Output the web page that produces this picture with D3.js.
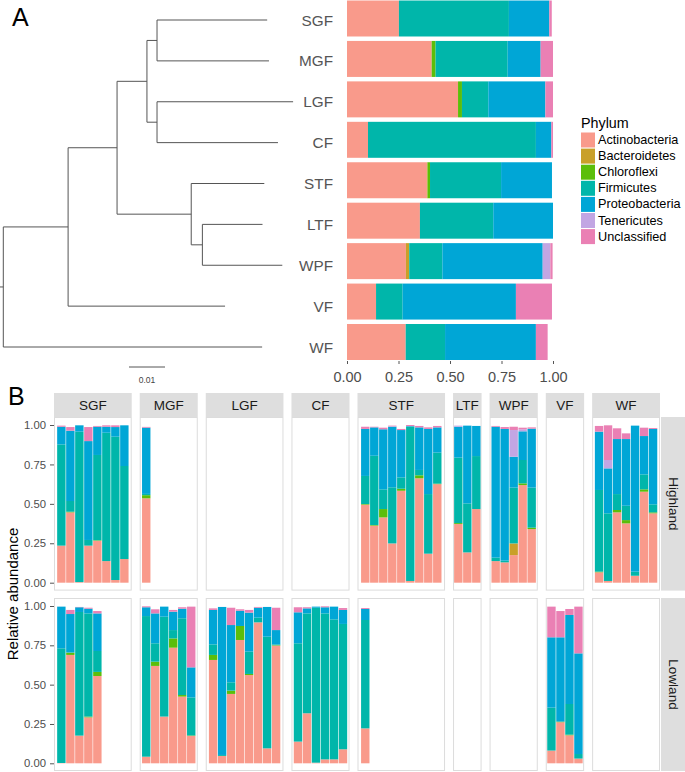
<!DOCTYPE html>
<html><head><meta charset="utf-8">
<script src="https://cdn.jsdelivr.net/npm/d3@7"></script>
<style>body{margin:0;background:#fff;} svg{display:block;font-family:"Liberation Sans",Arial,Helvetica,sans-serif;}</style>
</head><body><svg id="c" width="685" height="772"></svg>
<script>
// ---------- data ----------
const phyla = ["Actinobacteria","Bacteroidetes","Chloroflexi","Firmicutes","Proteobacteria","Tenericutes","Unclassified"];
const phylumColors = ["#F99A8B","#C9A029","#5BBE0A","#00B6AA","#00A6D6","#C2A6E3","#EA80B4"];
const sites = ["SGF","MGF","LGF","CF","STF","LTF","WPF","VF","WF"];
const rows = ["Highland","Lowland"];
const xTicksA = [0,0.25,0.5,0.75,1];
const yTicksB = [0,0.25,0.5,0.75,1];

// Panel A: mean relative abundance per site (order of sites)
const aActinobacteria = [.252,.411,.539,.102,.388,.354,.286,.141,.285];
const aBacteroidetes  = [0,0,0,0,.003,0,.016,0,0];
const aChloroflexi    = [0,.019,.019,0,.012,0,0,0,0];
const aFirmicutes     = [.534,.350,.128,.815,.345,.356,.161,.129,.191];
const aProteobacteria = [.196,.160,.277,.075,.247,.290,.487,.550,.441];
const aTenericutes    = [0,0,0,0,0,0,.037,0,0];
const aUnclassified   = [.012,.060,.037,.008,0,0,.011,.175,.057];

// Dendrogram (branch lengths)
const tree = {len:0, children:[
  {len:0.0180, children:[
    {len:0.0136, children:[
      {len:0.0083, children:[
        {len:0.0028, children:[{name:"SGF",len:0.0306},{name:"MGF",len:0.0311}]},
        {len:0.0028, children:[{name:"LGF",len:0.0378},{name:"CF",len:0.0336}]}
      ]},
      {len:0.0206, children:[
        {name:"STF",len:0.0203},
        {len:0.0031, children:[{name:"LTF",len:0.0167},{name:"WPF",len:0.0222}]}
      ]}
    ]},
    {name:"VF",len:0.0436}
  ]},
  {name:"WF",len:0.0719}
]};

// Panel B: per-sample abundances [Act,Bac,Chl,Fir,Pro,Ten,Unc]
const hiSGF = [[.235,0,0,.642,.112,0,.007],[.446,0,.004,.068,.446,0,.023],[.004,0,0,.954,.040,0,0],[.235,0,0,.036,.627,0,.089],[.266,0,.003,.541,.179,0,.005],[.137,0,0,.814,.038,0,.009],[.017,0,0,.909,.061,0,.011],[.150,0,0,.590,.258,0,0]];
const hiMGF = [[.535,0,.020,.008,.420,0,.005]];
const hiLGF = [];
const hiCF  = [];
const hiSTF = [[.495,0,.004,.178,.298,0,.014],[.362,0,.004,.439,.180,0,.004],[.414,0,.053,.125,.381,0,.010],[.249,0,0,.356,.384,.003,.004],[.583,0,.013,.072,.300,0,.007],[.011,0,0,.978,.004,0,.007],[.662,0,.019,.034,.270,0,.009],[.184,0,0,.378,.413,0,.010],[.625,0,.003,.197,.160,0,.009]];
const hiLTF = [[.372,0,.006,.415,.196,.007,0],[.192,0,0,.311,.493,0,0],[.467,0,0,.336,.191,0,0]];
const hiWPF = [[.137,0,0,.022,.830,0,.005],[.129,0,0,.011,.835,0,.012],[.175,.074,0,.354,.196,.169,.021],[.619,0,.011,.148,.182,.013,.010],[.340,0,.009,.254,.374,0,.008]];
const hiVF  = [];
const hiWF  = [[.066,0,.004,.518,.370,0,.036],[.011,0,0,.429,.285,.053,.220],[.446,0,.015,.101,.349,0,.068],[.376,0,.021,.091,.423,0,.036],[.044,0,0,.026,.926,0,0],[.577,0,.015,.095,.243,0,.053],[.440,0,.006,.051,.478,0,.006]];

const loSGF = [[.002,0,0,.729,.265,0,0],[.689,0,.014,.003,.243,0,.026],[.176,0,0,.786,.030,0,.002],[.292,0,.005,.656,.030,0,.006],[.555,0,.026,.133,.239,0,.015]];
const loMGF = [[.042,0,0,.894,.056,0,.006],[.619,0,.027,.117,.190,0,.026],[.297,0,0,.635,.064,0,0],[.735,0,.059,.053,.117,0,.011],[.424,0,.010,.488,.061,0,.009],[.174,0,.003,.242,.191,0,.386]];
const loLGF = [[.657,0,.032,.067,.219,0,.010],[.047,0,0,.006,.941,0,0],[.441,0,.021,.053,.364,0,.110],[.784,0,.089,0,.097,0,.009],[.561,0,.007,.142,.248,0,.017],[.896,0,0,.030,.063,0,.005],[.095,0,0,.710,.189,0,0],[.748,0,.003,.005,.091,0,.142]];
const loCF  = [[.138,0,0,.625,.197,0,.032],[.318,0,0,.635,.032,0,.007],[.004,0,0,.985,.007,0,0],[.025,0,0,.928,.039,0,.006],[.025,0,0,.890,.081,0,0],[.089,0,0,.797,.089,0,.012]];
const loSTF = [[.222,0,0,.689,.070,0,.006]];
const loLTF = [];
const loWPF = [];
const loVF  = [[.081,0,0,.273,.447,0,.195],[.261,0,.004,0,.536,0,.167],[.178,0,.004,.195,.566,0,.038],[.030,0,0,.029,.640,0,.297]];
const loWF  = [];

// ---------- drawing ----------
const svg = d3.select("#c");
const color = d3.scaleOrdinal(phyla, phylumColors);
const axisGrey = "#4D4D4D";

// Panel labels
svg.append("text").attr("x",12).attr("y",26).attr("font-size",25).attr("fill","#000").text("A");
svg.append("text").attr("x",8).attr("y",405).attr("font-size",25).attr("fill","#000").text("B");

// --- Dendrogram ---
const root = d3.hierarchy(tree);
root.each(n => { n.pos = (n.parent ? n.parent.pos : 0) + n.data.len; });
const dx = d3.scaleLinear().domain([0,0.01]).range([3.3,39.3]);
const tipY = d3.scalePoint().domain(sites).range([20,347]);
root.eachAfter(n => {
  if (!n.children) n.yy = tipY(n.data.name);
  else n.yy = (n.children[0].yy + n.children[n.children.length-1].yy)/2;
});
const dg = svg.append("g").attr("stroke","#555").attr("stroke-width",1).attr("fill","none");
root.descendants().forEach(n => {
  if (n.parent) dg.append("line").attr("x1",dx(n.parent.pos)).attr("x2",dx(n.pos)).attr("y1",n.yy).attr("y2",n.yy);
  if (n.children) {
    const ys = n.children.map(c=>c.yy);
    dg.append("line").attr("x1",dx(n.pos)).attr("x2",dx(n.pos)).attr("y1",d3.min(ys)).attr("y2",d3.max(ys));
  }
});
dg.append("line").attr("x1",0).attr("x2",dx(0)).attr("y1",root.yy).attr("y2",root.yy);
// tip labels
svg.append("g").selectAll("text").data(root.leaves()).join("text")
  .attr("x",333).attr("y",d=>d.yy).attr("text-anchor","end").attr("dominant-baseline","central")
  .attr("font-size",15.3).attr("fill","#555").text(d=>d.data.name);
// scale bar
const sbX = 129;
svg.append("line").attr("x1",sbX).attr("x2",sbX + dx(0.01)-dx(0)).attr("y1",367).attr("y2",367).attr("stroke","#555");
svg.append("text").attr("x",sbX + (dx(0.01)-dx(0))/2).attr("y",383).attr("text-anchor","middle").attr("font-size",8.5).attr("fill","#444").text("0.01");

// --- Panel A bars ---
const aSeries = [aActinobacteria,aBacteroidetes,aChloroflexi,aFirmicutes,aProteobacteria,aTenericutes,aUnclassified];
const aTable = sites.map((s,i)=>{ const o={site:s}; phyla.forEach((p,j)=>o[p]=aSeries[j][i]); return o; });
const xA = d3.scaleLinear().domain([0,1]).range([347,553]);
const yA = d3.scaleBand().domain(sites).range([0.5,360]).paddingInner(0.11);
const stackA = d3.stack().keys(phyla)(aTable);
svg.append("g").selectAll("g").data(stackA).join("g").attr("fill",d=>color(d.key))
  .selectAll("rect").data(d=>d).join("rect")
  .attr("x",d=>xA(d[0])).attr("width",d=>Math.max(0,xA(d[1])-xA(d[0])))
  .attr("y",d=>yA(d.data.site)).attr("height",yA.bandwidth());
const axA = svg.append("g").attr("transform","translate(0,361)")
  .call(d3.axisBottom(xA).tickValues(xTicksA).tickFormat(d3.format(".2f")).tickSize(3).tickPadding(8));
axA.select(".domain").remove();
axA.selectAll(".tick line").attr("stroke","#555");
axA.selectAll("text").attr("font-size",14.5).attr("fill",axisGrey).attr("font-family","Liberation Sans, Arial, sans-serif");

// --- Legend ---
const lg = svg.append("g");
lg.append("text").attr("x",581).attr("y",128).attr("font-size",14.3).attr("fill","#000").text("Phylum");
phyla.forEach((p,i)=>{
  const cy = 140 + i*16.1;
  lg.append("rect").attr("x",581).attr("y",cy-7.5).attr("width",14).attr("height",15).attr("fill",color(p));
  lg.append("text").attr("x",598).attr("y",cy).attr("dominant-baseline","central").attr("font-size",12.7).attr("fill","#000").text(p);
});

// --- Panel B facets ---
const hiData = {SGF:hiSGF,MGF:hiMGF,LGF:hiLGF,CF:hiCF,STF:hiSTF,LTF:hiLTF,WPF:hiWPF,VF:hiVF,WF:hiWF};
const loData = {SGF:loSGF,MGF:loMGF,LGF:loLGF,CF:loCF,STF:loSTF,LTF:loLTF,WPF:loWPF,VF:loVF,WF:loWF};
const rowData = [hiData, loData];
const nSlots = sites.map(s=>Math.max(hiData[s].length, loData[s].length));
const totalSlots = d3.sum(nSlots);
const bLeft = 54, bRight = 660, gap = 8;
const k = (bRight - bLeft - gap*(sites.length-1) + sites.length) / totalSlots;
const panels = [];
let cx = bLeft;
sites.forEach((s,i)=>{ const w = nSlots[i]*k - 1; panels.push({site:s,x0:cx,w:w,n:nSlots[i]}); cx += w + gap; });
const rowY = [
  {top:417, bottom:590.6, y:d3.scaleLinear().domain([0,1]).range([582.7,425])},
  {top:598, bottom:771, y:d3.scaleLinear().domain([0,1]).range([763.3,606])}
];
const stripTop = 393;
const barStep = 9, barW = 8.4;

// strips on top
panels.forEach(p=>{
  svg.append("rect").attr("x",p.x0).attr("y",stripTop).attr("width",p.w).attr("height",rowY[0].top-stripTop).attr("fill","#DEDEDE");
  svg.append("text").attr("x",p.x0+p.w/2).attr("y",(stripTop+rowY[0].top)/2).attr("text-anchor","middle")
    .attr("dominant-baseline","central").attr("font-size",13.5).attr("fill","#1A1A1A").text(p.site);
});

rowY.forEach((r,ri)=>{
  // right strip
  svg.append("rect").attr("x",661).attr("y",r.top).attr("width",26).attr("height",r.bottom-r.top).attr("fill","#DEDEDE");
  svg.append("text").attr("transform",`translate(673,${(r.top+r.bottom)/2}) rotate(90)`).attr("text-anchor","middle")
    .attr("dominant-baseline","central").attr("font-size",13.5).attr("fill","#1A1A1A").text(rows[ri]);
  // y axis
  const ax = svg.append("g").attr("transform",`translate(${bLeft},0)`)
    .call(d3.axisLeft(r.y).tickValues(yTicksB).tickFormat(d3.format(".2f")).tickSize(4).tickPadding(4));
  ax.select(".domain").remove();
  ax.selectAll(".tick line").attr("stroke","#555");
  ax.selectAll("text").attr("font-size",11.3).attr("fill",axisGrey).attr("font-family","Liberation Sans, Arial, sans-serif");
  panels.forEach(p=>{
    svg.append("rect").attr("x",p.x0+0.5).attr("y",r.top+0.5).attr("width",p.w-1).attr("height",r.bottom-r.top-1)
      .attr("fill","#fff").attr("stroke","#DCDCDC").attr("stroke-width",1);
    const samples = rowData[ri][p.site];
    if (!samples.length) return;
    const pad = (p.w - p.n*barStep)/2;
    const xb = d3.scaleBand().domain(d3.range(p.n)).range([p.x0+pad, p.x0+pad+p.n*barStep]).paddingInner(0).paddingOuter(0);
    const table = samples.map((v,i)=>{ const o={i:i}; phyla.forEach((ph,j)=>o[ph]=v[j]); return o; });
    const st = d3.stack().keys(phyla)(table);
    svg.append("g").selectAll("g").data(st).join("g").attr("fill",d=>color(d.key))
      .selectAll("rect").data(d=>d).join("rect")
      .attr("x",d=>xb(d.data.i)+(barStep-barW)/2).attr("width",barW)
      .attr("y",d=>r.y(d[1])).attr("height",d=>Math.max(0,r.y(d[0])-r.y(d[1])));
  });
});

// y title
svg.append("text").attr("transform","translate(12,594) rotate(-90)").attr("text-anchor","middle")
  .attr("dominant-baseline","central").attr("font-size",15).attr("fill","#000").text("Relative abundance");
</script></body></html>
